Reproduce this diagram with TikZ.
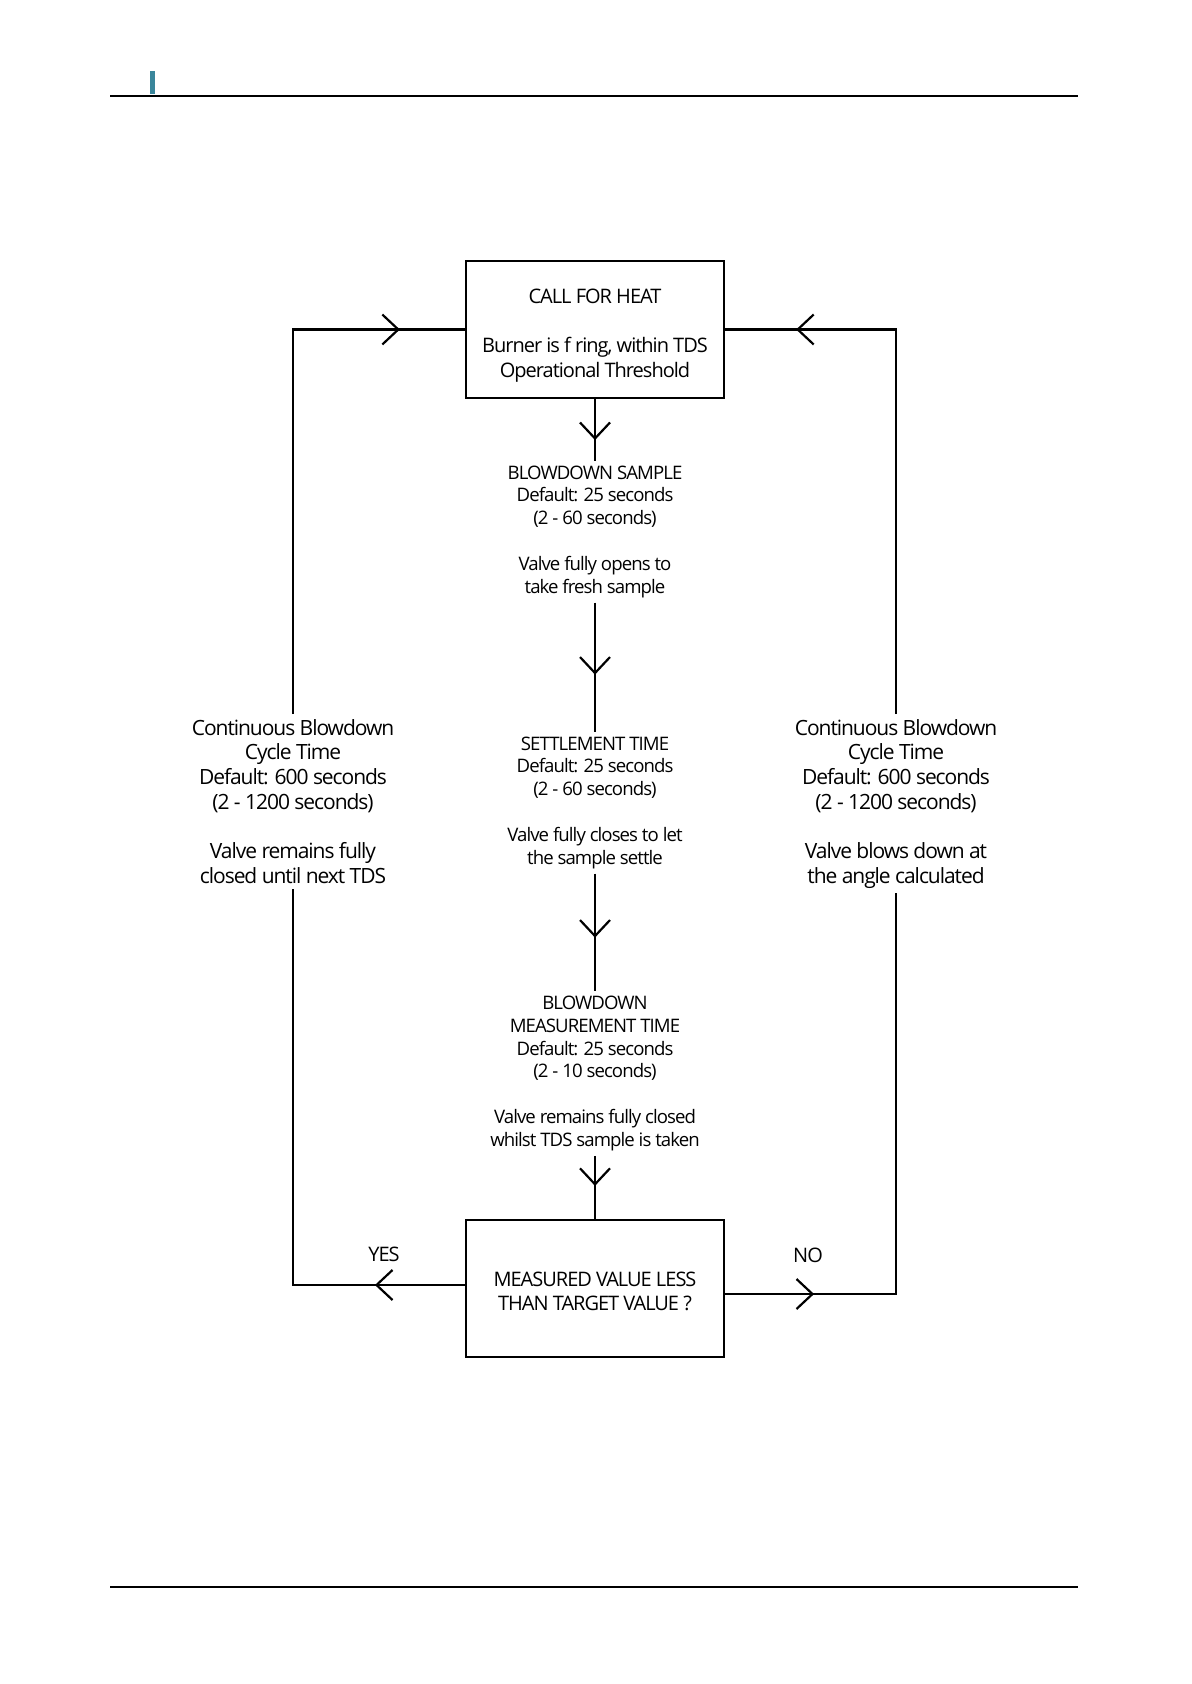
\documentclass[tikz,border=0pt]{standalone}
\usepackage{fontspec}
\setmainfont{Open Sans}[LetterSpace=-5]
\usetikzlibrary{positioning,arrows.meta,decorations.markings}
\definecolor{barteal}{RGB}{58,134,155}

\begin{document}
\begin{tikzpicture}
  [x=0.5pt,y=-0.5pt,line width=1.1pt,
   box/.style={draw, minimum width=129pt, minimum height=68.5pt, align=center, font=\fontsize{10}{12.3}\selectfont},
   txt/.style={align=center, inner sep=2pt, anchor=north, font=\fontsize{9.3}{11.4}\selectfont},
   side/.style={align=center, inner sep=2pt, anchor=north, font=\fontsize{10.5}{12.35}\selectfont},
   flow/.style={postaction={decorate}, decoration={markings, mark=at position #1 with {\arrow{Straight Barb[length=8pt,width=15pt]}}}}]
  \useasboundingbox (0,0) rectangle (1191,1684);

  % page rules
  \fill[barteal] (150,71) rectangle (155,94);
  \draw[line width=0.75pt] (110,96) -- (1078,96);
  \draw[line width=0.75pt] (110,1587) -- (1078,1587);

  \node[box] (heat) at (595,329.5) {\rule{0pt}{13.5pt}CALL FOR HEAT\\[12.3pt]Burner is f ring, within TDS\\Operational Threshold};
  \node[box] (check) at (595,1288.5) {\rule{0pt}{10pt}MEASURED VALUE LESS\\THAN TARGET VALUE ?};

  \node[txt] (sample) at (595,460.5) {BLOWDOWN SAMPLE\\Default: 25 seconds\\(2 - 60 seconds)\\[11.4pt]Valve fully opens to\\take fresh sample};
  \node[txt] (settle) at (595,731.5) {SETTLEMENT TIME\\Default: 25 seconds\\(2 - 60 seconds)\\[11.4pt]Valve fully closes to let\\the sample settle};
  \node[txt] (measure) at (595,991) {BLOWDOWN\\MEASUREMENT TIME\\Default: 25 seconds\\(2 - 10 seconds)\\[11.4pt]Valve remains fully closed\\whilst TDS sample is taken};

  \node[side] (cycleL) at (293,714) {Continuous Blowdown\\Cycle Time\\Default: 600 seconds\\(2 - 1200 seconds)\\[12.35pt]Valve remains fully\\closed until next TDS};
  \node[side] (cycleR) at (896,714) {Continuous Blowdown\\Cycle Time\\Default: 600 seconds\\(2 - 1200 seconds)\\[12.35pt]Valve blows down at\\the angle calculated};

  \node[font=\fontsize{10}{12}\selectfont] (yes) at (384,1254) {YES};
  \node[font=\fontsize{10}{12}\selectfont] (no) at (808,1255) {NO};

  \foreach \from/\to/\pos in {heat/sample/20.5pt, sample/settle/36pt, settle/measure/32pt, measure/check/-16.5pt}
    \draw[flow=\pos] (\from) -- (\to);

  \draw[flow=-32.5pt] (cycleL.north) |- (heat.west);
  \draw[flow=-35.5pt] (cycleR.north) |- (heat.east);
  \draw[flow=45pt] ([yshift=1.75pt]check.west) -| (cycleL.south);
  \draw[flow=44.5pt] ([yshift=-2.75pt]check.east) -| (cycleR.south);
\end{tikzpicture}
\end{document}
